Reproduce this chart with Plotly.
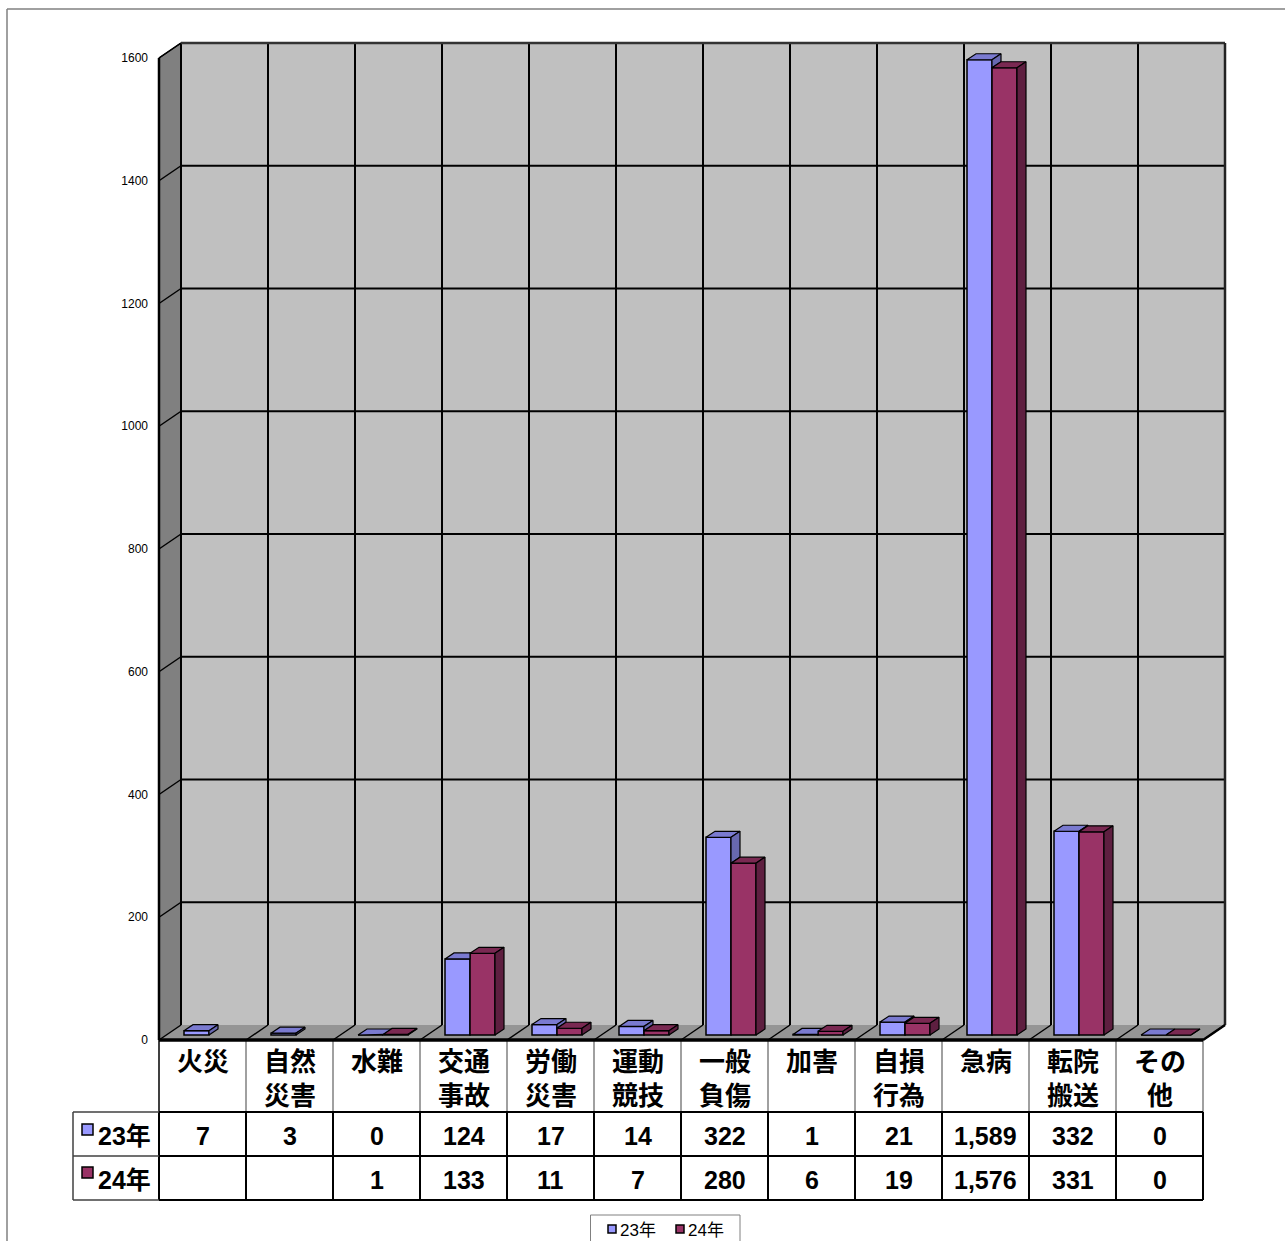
import plotly.graph_objects as go

# ---------------- data ----------------
categories = ["火災", "自然<br>災害", "水難", "交通<br>事故", "労働<br>災害", "運動<br>競技",
              "一般<br>負傷", "加害", "自損<br>行為", "急病", "転院<br>搬送", "その<br>他"]
series_names = ["23年", "24年"]
values_23 = [7, 3, 0, 124, 17, 14, 322, 1, 21, 1589, 332, 0]
values_24 = [None, None, 1, 133, 11, 7, 280, 6, 19, 1576, 331, 0]
y_ticks = [0, 200, 400, 600, 800, 1000, 1200, 1400, 1600]

# ---------------- geometry (pixels) ----------------
W, H = 1285, 1241
X0, CW = 159, 87          # front plane left edge, category width
Y0, PPU = 1040, 0.61375   # front plane zero line, pixels per unit
DXP, DYP = 22, 15         # depth offset of back wall
N = len(categories)

def cx(px):
    return (px - X0) / CW

def vy(py):
    return (Y0 - py) / PPU

def px_(py):
    return 1 - py / H

def qx(px):
    return px / W

DX = DXP / CW
DV = DYP / PPU
VMAX = 1600

bar_off = 25 / CW
bar_w = 25 / CW
base = 5 / PPU
ddx = 9 / CW
ddv = 6 / PPU

blue_front, blue_top, blue_side = "#9999FF", "#7A7AD0", "#6868B0"
red_front, red_top, red_side = "#993366", "#7A2952", "#5E1F40"
FONT_K = "Liberation Sans, Noto Sans CJK JP, sans-serif"

fig = go.Figure()
shapes = []

def poly(pts, fill, line_color=None, lw=0, ref=("x", "y"), layer="below"):
    path = "M " + " L ".join(f"{x},{y}" for x, y in pts) + " Z"
    shapes.append(dict(type="path", path=path, xref=ref[0], yref=ref[1], fillcolor=fill,
                       layer=layer, line=dict(color=line_color or fill, width=lw)))

def seg(x0, y0, x1, y1, color="black", w=1.5, ref=("x", "y"), layer="below"):
    shapes.append(dict(type="line", x0=x0, y0=y0, x1=x1, y1=y1, xref=ref[0], yref=ref[1],
                       line=dict(color=color, width=w), layer=layer))

def rect(x0, y0, x1, y1, fill, lc, lw, ref=("paper", "paper")):
    shapes.append(dict(type="rect", x0=x0, y0=y0, x1=x1, y1=y1, xref=ref[0], yref=ref[1],
                       fillcolor=fill, line=dict(color=lc, width=lw), layer="above"))

# back wall, left wall, floor
poly([(DX, DV), (N + DX, DV), (N + DX, VMAX + DV), (DX, VMAX + DV)], "#C0C0C0")
poly([(0, 0), (DX, DV), (DX, VMAX + DV), (0, VMAX)], "#808080")
poly([(0, 0), (DX, DV), (N + DX, DV), (N, 0)], "#959595")

# back wall grid
for t in y_ticks[1:]:
    seg(DX, t + DV, N + DX, t + DV, "black", 2)
    seg(0, t, DX, t + DV, "black", 1.5)
for i in range(N):
    seg(i + DX, DV, i + DX, VMAX + DV, "black", 2)
seg(DX, VMAX + DV, N + DX, VMAX + DV, "#333333", 2.5)
seg(N + DX, DV, N + DX, VMAX + DV, "#222222", 2.5)
for i in range(N + 1):
    seg(i, 0, i + DX, DV, "black", 1.5)
seg(0, 0, 0, VMAX, "black", 2.5)
seg(0, VMAX, DX, VMAX + DV, "black", 1.5)

# ---------------- bars ----------------
xs_b = [i + bar_off + bar_w / 2 for i in range(N)]
xs_r = [i + bar_off + bar_w * 1.5 for i in range(N)]
fig.add_trace(go.Bar(x=xs_b, y=values_23, base=base, width=bar_w, name=series_names[0],
                     marker=dict(color=blue_front, line=dict(color="black", width=1.5))))
fig.add_trace(go.Bar(x=xs_r, y=values_24, base=base, width=bar_w, name=series_names[1],
                     marker=dict(color=red_front, line=dict(color="black", width=1.5))))

def add_faces(polys, color):
    xs, ys = [], []
    for p in polys:
        for x, y in p:
            xs.append(x)
            ys.append(y)
        xs.append(p[0][0]); ys.append(p[0][1])
        xs.append(None); ys.append(None)
    fig.add_trace(go.Scatter(x=xs, y=ys, mode="lines", fill="toself", fillcolor=color,
                             line=dict(color="black", width=1.2), showlegend=False,
                             hoverinfo="skip"))

bt, bs, rt, rs = [], [], [], []
for i in range(N):
    vb, vr = values_23[i], values_24[i]
    if vb is not None:
        x0 = i + bar_off
        x1 = x0 + bar_w
        T = vb + base
        if vr is not None and vr > vb:
            d = vr - vb
            if d < ddv:
                xm = x1 + ddx * d / ddv
                bt.append([(x0, T), (x1, T), (x1, T + d), (xm, T + d), (x1 + ddx, T + ddv), (x0 + ddx, T + ddv)])
            else:
                bt.append([(x0, T), (x1, T), (x1, T + ddv), (x0 + ddx, T + ddv)])
        else:
            bt.append([(x0, T), (x1, T), (x1 + ddx, T + ddv), (x0 + ddx, T + ddv)])
        if vr is None:
            bs.append([(x1, base), (x1, T), (x1 + ddx, T + ddv), (x1 + ddx, base + ddv)])
        elif vb > vr:
            lo = vr + base
            bs.append([(x1, lo), (x1, T), (x1 + ddx, T + ddv), (x1 + ddx, lo + ddv)])
    if vr is not None:
        x0 = i + bar_off + bar_w
        x1 = x0 + bar_w
        T = vr + base
        rt.append([(x0, T), (x1, T), (x1 + ddx, T + ddv), (x0 + ddx, T + ddv)])
        rs.append([(x1, base), (x1, T), (x1 + ddx, T + ddv), (x1 + ddx, base + ddv)])

add_faces(bt, blue_top)
add_faces(bs, blue_side)
add_faces(rt, red_top)
add_faces(rs, red_side)

# ---------------- data table ----------------
P = ("x", "paper")
PP = ("paper", "paper")
for i in range(N + 1):
    seg(i, px_(1040), i, px_(1112), "black" if i == 0 else "#808080", 1.5, P, "above")
    seg(i, px_(1112), i, px_(1200), "black", 2, P, "above")
seg(0, px_(1040), N, px_(1040), "black", 3.5, P, "above")
seg(N, px_(1040), N + DX, px_(1025), "black", 2.5, P, "above")
for yy in (1112, 1156, 1200):
    seg(qx(73), px_(yy), qx(X0), px_(yy), "#404040", 1.5, PP, "above")
    seg(0, px_(yy), N, px_(yy), "black", 2, P, "above")
seg(qx(73), px_(1112), qx(73), px_(1200), "#404040", 1.5, PP, "above")

annotations = []
line_y = [1062, 1096]
for i, lab in enumerate(categories):
    for k, part in enumerate(lab.split("<br>")):
        annotations.append(dict(x=i + 0.5, y=px_(line_y[k]), xref="x", yref="paper", text=part,
                                showarrow=False, xanchor="center", yanchor="middle",
                                font=dict(family=FONT_K, size=26, color="black", weight="bold")))

rows = [(values_23, 1136, blue_front, 1124), (values_24, 1180, red_front, 1167)]
for (vals, yc, col, ky), nm in zip(rows, series_names):
    for i, v in enumerate(vals):
        if v is None:
            continue
        annotations.append(dict(x=i + 0.5, y=px_(yc), xref="x", yref="paper", text=f"{v:,}",
                                showarrow=False, xanchor="center", yanchor="middle",
                                font=dict(family=FONT_K, size=25, color="black", weight="bold")))
    annotations.append(dict(x=qx(96), y=px_(yc), xref="paper", yref="paper", text=nm,
                            showarrow=False, xanchor="left", yanchor="middle",
                            font=dict(family=FONT_K, size=25, color="black", weight="bold")))
    rect(qx(82), px_(ky + 11), qx(93), px_(ky), col, "black", 1.5)

# ---------------- legend box ----------------
rect(qx(590.5), px_(1250), qx(740), px_(1215), "white", "#808080", 1)
leg_items = [(608, 618, blue_front), (676, 686, red_front)]
for (kx, tx, col), nm in zip(leg_items, series_names):
    rect(qx(kx), px_(1233), qx(kx + 8), px_(1225), col, "black", 1.5)
    annotations.append(dict(x=qx(tx), y=px_(1230), xref="paper", yref="paper", text=nm,
                            showarrow=False, xanchor="left", yanchor="middle",
                            font=dict(family=FONT_K, size=17, color="black")))

# outer frame
seg(qx(7), px_(9), 1.0, px_(9), "#808080", 1.5, PP, "above")
seg(qx(7), px_(9), qx(7), 0.0, "#808080", 1.5, PP, "above")

fig.update_layout(
    template="none",
    width=W, height=H,
    margin=dict(l=0, r=0, t=0, b=0, pad=0, autoexpand=False),
    paper_bgcolor="white", plot_bgcolor="white",
    barmode="overlay",
    shapes=shapes,
    annotations=annotations,
    showlegend=False,
    xaxis=dict(range=[cx(0), cx(W)], visible=False, fixedrange=True),
    yaxis=dict(range=[vy(H), vy(0)], tickvals=y_ticks, ticktext=[str(t) for t in y_ticks],
               showgrid=False, zeroline=False, showline=False, ticks="",
               anchor="free", position=X0 / W, automargin=False, ticklabelstandoff=11,
               fixedrange=True,
               tickfont=dict(family="Liberation Sans, Arial, sans-serif", size=12, color="black")),
)

fig.write_html("out.html", config={"displayModeBar": False},
               post_script="document.body.style.margin='0px';")
